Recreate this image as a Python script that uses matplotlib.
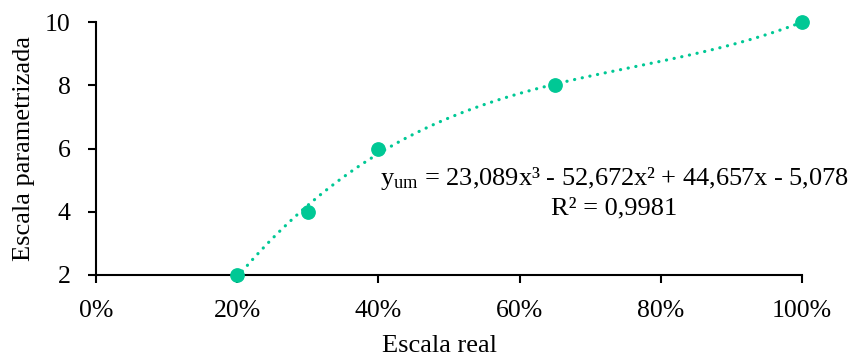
import numpy as np
import matplotlib
matplotlib.use("Agg")
import matplotlib.pyplot as plt
from matplotlib.ticker import PercentFormatter

plt.rcParams['font.family'] = ['Liberation Serif', 'DejaVu Serif']
plt.rcParams['mathtext.fontset'] = 'custom'
plt.rcParams['mathtext.rm'] = 'Liberation Serif'
plt.rcParams['mathtext.it'] = 'Liberation Serif'
plt.rcParams['mathtext.default'] = 'regular'

escala_real = [0.20, 0.30, 0.40, 0.65, 1.00]
escala_param = [2, 4, 6, 8, 10]
x_ticks = [0, 0.2, 0.4, 0.6, 0.8, 1.0]
y_ticks = [2, 4, 6, 8, 10]
eq_text = 'y$_{um}$ = 23,089x³ - 52,672x² + 44,657x - 5,078'
r2_text = 'R² = 0,9981'

color = '#00C895'

fig = plt.figure(figsize=(8.56, 3.57), dpi=100)
ax = fig.add_axes([0.112, 0.2297, 0.825, 0.7086])

coef = np.polyfit(escala_real, escala_param, 3)
xs = np.linspace(min(escala_real), max(escala_real), 300)
ax.plot(xs, np.polyval(coef, xs), color=color, lw=2.3,
        linestyle=(0, (0.05, 2.4)), dash_capstyle='round', zorder=2)
ax.plot(escala_real, escala_param, 'o', color=color, ms=9.6, zorder=3, clip_on=False)

ax.set_xlim(0, 1.0)
ax.set_ylim(2, 10)
ax.set_xticks(x_ticks)
ax.set_yticks(y_ticks)
ax.xaxis.set_major_formatter(PercentFormatter(1.0, decimals=0))
for s in ['top', 'right']:
    ax.spines[s].set_visible(False)
for s in ['left', 'bottom']:
    ax.spines[s].set_linewidth(1.5)
ax.tick_params(axis='both', labelsize=18.5, width=1.5, length=6, direction='out', color='black')
ax.tick_params(axis='x', pad=12)
ax.tick_params(axis='y', pad=12)
ax.set_xlabel('Escala real', fontsize=19)
ax.xaxis.set_label_coords(0.486, -0.303)
ax.xaxis.label.set_va('baseline')
ax.set_ylabel('Escala parametrizada', fontsize=19, labelpad=7)

ax.text(0.734, 4.85, eq_text, fontsize=19, ha='center', va='baseline')
ax.text(0.734, 3.93, r2_text, fontsize=19, ha='center', va='baseline')

fig.savefig('out.png', dpi=100)
